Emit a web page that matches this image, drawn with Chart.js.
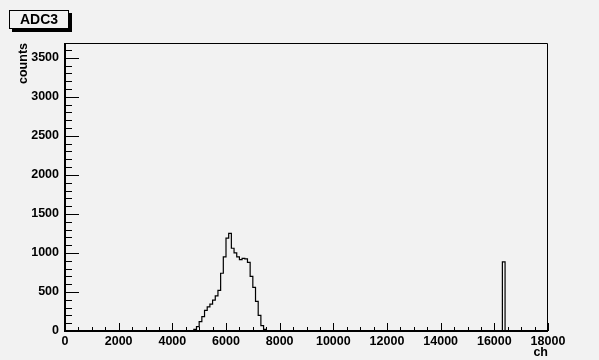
<!DOCTYPE html>
<html><head><meta charset="utf-8">
<script src="https://cdn.jsdelivr.net/npm/chart.js@4/dist/chart.umd.min.js"></script>
<style>html,body{margin:0;padding:0;background:#f2f2f2;overflow:hidden}canvas{display:block}</style>
</head><body>
<canvas id="c" width="599" height="360"></canvas>
<script>
// ---- data ----
const titleText = 'ADC3';
const xTitle = 'ch';
const yTitle = 'counts';
const binWidth = 100;
const xMin = 0, xMax = 18000;
const yMin = 0, yMax = 3690;
const xTickValues = [0, 2000, 4000, 6000, 8000, 10000, 12000, 14000, 16000, 18000];
const yTickValues = [0, 500, 1000, 1500, 2000, 2500, 3000, 3500];
const pedestalStart = 0;
const pedestalCounts = [50];
const peakStart = 4900;
const peakCounts = [20, 55, 120, 185, 265, 310, 345, 395, 450, 520, 740, 950, 1190, 1250,
                    1060, 1000, 950, 915, 930, 925, 880, 700, 560, 380, 200, 70, 20, 5];
const spikeStart = 16400;
const spikeCounts = [885];

// ---- build histogram ----
const FONT = "'Liberation Sans', Arial, Helvetica, sans-serif";
const BG = '#f2f2f2';
const nBins = Math.round((xMax - xMin) / binWidth);
const counts = new Array(nBins).fill(0);
function place(start, arr) {
  const i0 = Math.round((start - xMin) / binWidth);
  arr.forEach((v, k) => { counts[i0 + k] = v; });
}
place(pedestalStart, pedestalCounts);
place(peakStart, peakCounts);
place(spikeStart, spikeCounts);
const points = counts.map((v, i) => ({ x: xMin + i * binWidth, y: v }));
points.push({ x: xMax, y: 0 });

const bgPlugin = {
  id: 'bg',
  beforeDraw(chart) {
    const ctx = chart.ctx;
    ctx.save();
    ctx.fillStyle = BG;
    ctx.fillRect(0, 0, chart.width, chart.height);
    ctx.restore();
  }
};

const decor = {
  id: 'decor',
  afterDraw(chart) {
    const { ctx, chartArea: a, scales: { x, y } } = chart;
    ctx.save();
    ctx.strokeStyle = '#000';
    ctx.lineWidth = 1;
    ctx.beginPath();
    for (let v = xMin; v <= xMax; v += 500) {
      const px = Math.round(x.getPixelForValue(v)) + 0.5;
      const len = (v % 2000 === 0) ? 8 : 4;
      ctx.moveTo(px, a.bottom);
      ctx.lineTo(px, a.bottom - len);
    }
    for (let v = yMin; v <= yMax; v += 100) {
      const py = Math.round(y.getPixelForValue(v)) + 0.5;
      const len = (v % 500 === 0) ? 14 : 7;
      ctx.moveTo(a.left, py);
      ctx.lineTo(a.left + len, py);
    }
    // top and right frame
    ctx.moveTo(a.left, a.top + 0.5);
    ctx.lineTo(a.right - 0.5, a.top + 0.5);
    ctx.lineTo(a.right - 0.5, a.bottom);
    ctx.stroke();
    // axes
    ctx.lineWidth = 2;
    ctx.beginPath();
    ctx.moveTo(a.left, a.top);
    ctx.lineTo(a.left, a.bottom);
    ctx.lineTo(a.right, a.bottom);
    ctx.stroke();

    // title box with shadow
    const bx = 9, by = 10, bw = 60, bh = 19;
    ctx.fillStyle = '#000';
    ctx.fillRect(bx + 3, by + 3, bw, bh);
    ctx.fillStyle = BG;
    ctx.fillRect(bx, by, bw, bh);
    ctx.lineWidth = 1;
    ctx.strokeRect(bx + 0.5, by + 0.5, bw - 1, bh - 1);
    ctx.fillStyle = '#000';
    ctx.font = 'bold 14px ' + FONT;
    ctx.textAlign = 'center';
    ctx.textBaseline = 'middle';
    ctx.fillText(titleText, bx + bw / 2, by + bh / 2 + 1);

    // axis titles
    ctx.font = 'bold 12.5px ' + FONT;
    ctx.textAlign = 'right';
    ctx.textBaseline = 'middle';
    ctx.fillText(xTitle, a.right, 353);
    ctx.translate(24, a.top);
    ctx.rotate(-Math.PI / 2);
    ctx.textAlign = 'right';
    ctx.fillText(yTitle, 0, 0);
    ctx.restore();
  }
};

const tickFont = { family: FONT, size: 12.5, weight: 'bold' };

new Chart(document.getElementById('c'), {
  type: 'line',
  data: {
    datasets: [{
      data: points,
      stepped: 'after',
      borderColor: '#000',
      borderWidth: 1.2,
      pointRadius: 0,
      fill: false,
      tension: 0
    }]
  },
  options: {
    responsive: false,
    animation: false,
    devicePixelRatio: 1,
    layout: { padding: { left: 0, right: 51, top: 43, bottom: 0 } },
    plugins: { legend: { display: false }, tooltip: { enabled: false }, title: { display: false } },
    scales: {
      x: {
        type: 'linear', min: xMin, max: xMax,
        grid: { display: false, drawTicks: false },
        border: { display: false },
        afterBuildTicks: s => { s.ticks = xTickValues.map(v => ({ value: v })); },
        afterFit: s => { s.height = 29; },
        ticks: { autoSkip: false, maxRotation: 0, padding: 3, color: '#000', font: tickFont,
                 callback: v => String(v) }
      },
      y: {
        type: 'linear', min: yMin, max: yMax,
        grid: { display: false, drawTicks: false },
        border: { display: false },
        afterBuildTicks: s => { s.ticks = yTickValues.map(v => ({ value: v })); },
        afterFit: s => { s.width = 65; },
        ticks: { autoSkip: false, padding: 6, color: '#000', font: tickFont,
                 callback: v => String(v) }
      }
    }
  },
  plugins: [bgPlugin, decor]
});
</script>
</body></html>
